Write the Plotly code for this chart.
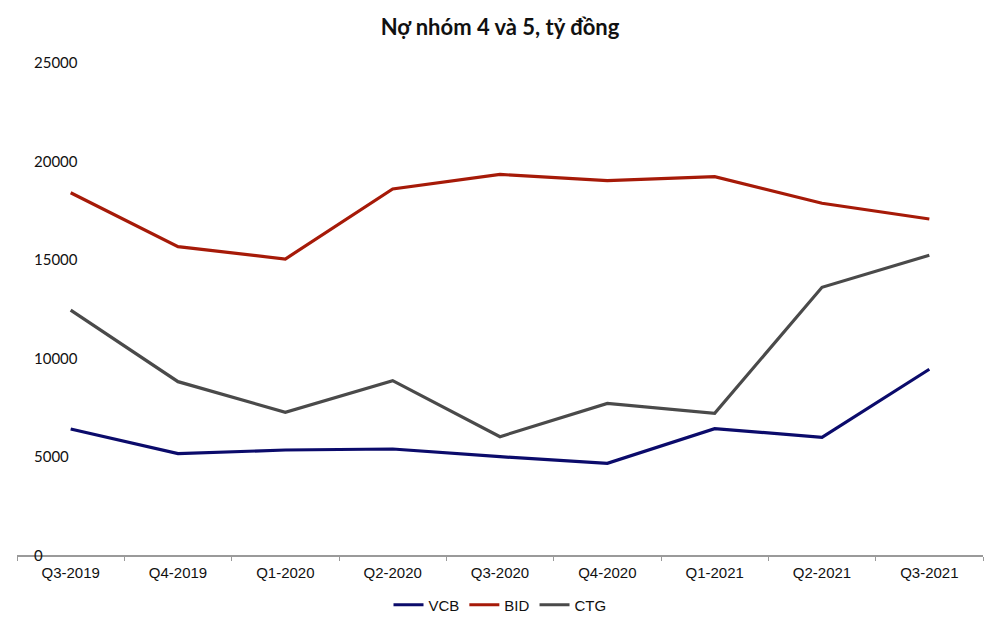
import plotly.graph_objects as go

quarters = ["Q3-2019", "Q4-2019", "Q1-2020", "Q2-2020", "Q3-2020",
            "Q4-2020", "Q1-2021", "Q2-2021", "Q3-2021"]
vcb = [6390, 5140, 5325, 5375, 4985, 4650, 6405, 5970, 9420]
bid = [18370, 15635, 15010, 18560, 19300, 18980, 19185, 17835, 17040]
ctg = [12420, 8790, 7235, 8840, 6000, 7690, 7185, 13575, 15200]
y_ticks = [0, 5000, 10000, 15000, 20000, 25000]

series = [("VCB", vcb, "#0b0b6b"), ("BID", bid, "#a61a08"), ("CTG", ctg, "#4a4a4a")]

fig = go.Figure()
for name, vals, col in series:
    fig.add_trace(go.Scatter(x=quarters, y=vals, name=name, mode="lines",
                             line=dict(color=col, width=3.2)))

for v in y_ticks:
    fig.add_annotation(x=0.0155, xref="paper", y=v, yref="y", text=str(v),
                       showarrow=False, xanchor="left", yanchor="middle",
                       font=dict(family="Lato, Liberation Sans", size=15, color="#111"))

# page body adds an 8px offset; margins compensate so the plot area sits at x 17-983, y 62-555
fig.update_layout(
    width=1000, height=628,
    margin=dict(l=9, r=25, t=54, b=81, autoexpand=False),
    paper_bgcolor="white", plot_bgcolor="white",
    title=dict(text="<b>Nợ nhóm 4 và 5, tỷ đồng</b>", x=(500 - 8) / 1000, xanchor="center",
               xref="container", y=1 - 19 / 628, yanchor="middle",
               font=dict(family="Lato", size=22, color="#111")),
    showlegend=True,
    legend=dict(orientation="h", x=0.5, xanchor="center",
                y=-50 / 493, yanchor="middle",
                font=dict(family="Liberation Sans, Arial", size=15, color="#111"),
                itemwidth=30, tracegroupgap=0),
    xaxis=dict(type="category", range=[-0.5, 8.5], showgrid=False,
               showline=True, linecolor="#9a9a9a", linewidth=1.5,
               ticks="outside", tickson="boundaries", ticklen=4,
               tickcolor="#9a9a9a", tickwidth=1.2, ticklabelstandoff=3,
               tickfont=dict(family="Liberation Sans, Arial", size=15, color="#111"),
               fixedrange=True),
    yaxis=dict(range=[0, 25000], showgrid=False, showticklabels=False,
               showline=False, zeroline=False, ticks="",
               fixedrange=True),
)

fig.write_html("out.html")
